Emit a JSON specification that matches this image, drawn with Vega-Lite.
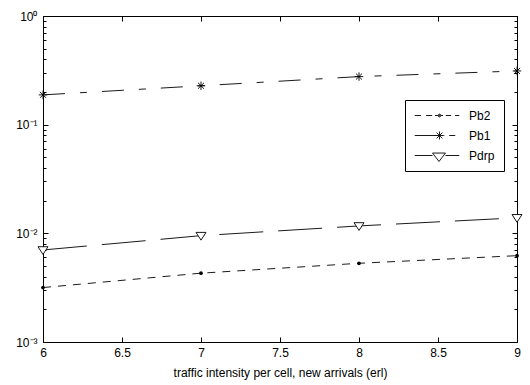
{
  "$schema": "https://vega.github.io/schema/vega-lite/v6.json",
  "width": 474,
  "height": 326,
  "autosize": {"type": "none"},
  "padding": {"left": 43, "top": 16, "right": 13, "bottom": 43},
  "background": "white",
  "config": {
    "view": {"stroke": "black", "strokeWidth": 1},
    "font": "Liberation Sans",
    "axis": {"grid": false, "domain": false, "tickColor": "black", "tickWidth": 1, "labelColor": "black", "titleColor": "black", "labelFont": "Liberation Sans", "titleFont": "Liberation Sans", "labelFontSize": 12, "titleFontSize": 12, "titleFontWeight": "normal", "labelOverlap": false, "labelFlush": false, "labelBound": false}
  },
  "data": {"values": [
    {"x": 6, "y": 0.00317, "series": "Pb2"},
    {"x": 7, "y": 0.0043, "series": "Pb2"},
    {"x": 8, "y": 0.0053, "series": "Pb2"},
    {"x": 9, "y": 0.00623, "series": "Pb2"},
    {"x": 6, "y": 0.188, "series": "Pb1"},
    {"x": 7, "y": 0.228, "series": "Pb1"},
    {"x": 8, "y": 0.277, "series": "Pb1"},
    {"x": 9, "y": 0.312, "series": "Pb1"},
    {"x": 6, "y": 0.00703, "series": "Pdrp"},
    {"x": 7, "y": 0.00952, "series": "Pdrp"},
    {"x": 8, "y": 0.0117, "series": "Pdrp"},
    {"x": 9, "y": 0.0139, "series": "Pdrp"}
  ]},
  "resolve": {"axis": {"x": "independent", "y": "independent"}},
  "layer": [
    {
      "transform": [{"filter": "datum.series == 'Pb2'"}],
      "mark": {"type": "line", "color": "black", "strokeWidth": 0.9, "strokeDash": [8, 7]},
      "encoding": {
        "x": {"field": "x", "type": "quantitative", "scale": {"domain": [6, 9], "nice": false, "zero": false},
          "axis": {"orient": "bottom", "values": [6, 6.5, 7, 7.5, 8, 8.5, 9], "format": "~g", "tickSize": -5, "labelPadding": 10, "title": "traffic intensity per cell, new arrivals (erl)", "titlePadding": 9}},
        "y": {"field": "y", "type": "quantitative", "scale": {"type": "log", "domain": [0.001, 1], "nice": false},
          "axis": {"orient": "left", "title": null,
            "values": [0.001, 0.002, 0.003, 0.004, 0.005, 0.006, 0.007, 0.008, 0.009, 0.01, 0.02, 0.03, 0.04, 0.05, 0.06, 0.07, 0.08, 0.09, 0.1, 0.2, 0.3, 0.4, 0.5, 0.6, 0.7, 0.8, 0.9, 1],
            "tickSize": {"condition": {"test": "abs(log(datum.value)/LN10 - round(log(datum.value)/LN10)) < 0.01", "value": -5}, "value": -3},
            "labelPadding": 11,
            "labelExpr": "abs(log(datum.value)/LN10 - round(log(datum.value)/LN10)) < 0.01 ? (round(log(datum.value)/LN10) == 0 ? '10⁰' : round(log(datum.value)/LN10) == -1 ? '10⁻¹' : round(log(datum.value)/LN10) == -2 ? '10⁻²' : '10⁻³') : ''"}}
      }
    },
    {
      "transform": [{"filter": "datum.series == 'Pb1'"}],
      "mark": {"type": "line", "color": "black", "strokeWidth": 0.9, "strokeDash": [22, 15, 7, 15]},
      "encoding": {
        "x": {"field": "x", "type": "quantitative",
          "axis": {"orient": "top", "values": [6, 6.5, 7, 7.5, 8, 8.5, 9], "labels": false, "tickSize": -5, "title": null}},
        "y": {"field": "y", "type": "quantitative",
          "axis": {"orient": "right", "title": null, "labels": false,
            "values": [0.001, 0.002, 0.003, 0.004, 0.005, 0.006, 0.007, 0.008, 0.009, 0.01, 0.02, 0.03, 0.04, 0.05, 0.06, 0.07, 0.08, 0.09, 0.1, 0.2, 0.3, 0.4, 0.5, 0.6, 0.7, 0.8, 0.9, 1],
            "tickSize": {"condition": {"test": "abs(log(datum.value)/LN10 - round(log(datum.value)/LN10)) < 0.01", "value": -5}, "value": -3}}}
      }
    },
    {
      "transform": [{"filter": "datum.series == 'Pdrp'"}],
      "mark": {"type": "line", "color": "black", "strokeWidth": 0.9, "strokeDash": [44, 15]},
      "encoding": {
        "x": {"field": "x", "type": "quantitative", "axis": null},
        "y": {"field": "y", "type": "quantitative", "axis": null}
      }
    },
    {
      "transform": [{"filter": "datum.series == 'Pb2'"}],
      "mark": {"type": "point", "shape": "circle", "filled": true, "color": "black", "size": 14, "opacity": 1},
      "encoding": {
        "x": {"field": "x", "type": "quantitative", "axis": null},
        "y": {"field": "y", "type": "quantitative", "axis": null}
      }
    },
    {
      "transform": [{"filter": "datum.series == 'Pb1'"}],
      "mark": {"type": "point", "shape": "M0,-1L0,1M-1,0L1,0M-0.7,-0.7L0.7,0.7M-0.7,0.7L0.7,-0.7", "filled": false, "color": "black", "strokeWidth": 0.9, "size": 72, "opacity": 1},
      "encoding": {
        "x": {"field": "x", "type": "quantitative", "axis": null},
        "y": {"field": "y", "type": "quantitative", "axis": null}
      }
    },
    {
      "transform": [{"filter": "datum.series == 'Pdrp'"}],
      "mark": {"type": "point", "shape": "M-1,-0.65L1,-0.65L0,0.9Z", "filled": false, "fill": "white", "color": "black", "stroke": "black", "strokeWidth": 0.9, "size": 100, "opacity": 1, "fillOpacity": 1},
      "encoding": {
        "x": {"field": "x", "type": "quantitative", "axis": null},
        "y": {"field": "y", "type": "quantitative", "axis": null}
      }
    },
    {
      "mark": {"type": "point", "opacity": 0, "filled": false, "color": "black"},
      "encoding": {
        "x": {"field": "x", "type": "quantitative", "axis": null},
        "y": {"field": "y", "type": "quantitative", "axis": null},
        "shape": {"field": "series", "type": "nominal",
          "scale": {"domain": ["Pb2", "Pb1", "Pdrp"],
            "range": [
              "M-1,0L-0.72,0M-0.49,0L-0.22,0M-0.09,0L0.04,0M0.18,0L0.27,0M0.4,0L0.63,0M0.81,0L1,0M0.048,0A0.063,0.063 0 1,0 0.174,0A0.063,0.063 0 1,0 0.048,0M0.08,0A0.03,0.03 0 1,0 0.14,0A0.03,0.03 0 1,0 0.08,0",
              "M-1,0L-0.03,0M0.11,-0.18L0.11,0.18M-0.07,0L0.29,0M-0.02,-0.13L0.24,0.13M-0.02,0.13L0.24,-0.13M0.29,0L0.33,0M0.55,0L0.82,0",
              "M-1,0L-0.2,0M-0.2,-0.11L0.38,-0.11L0.09,0.27Z M0.38,0L1,0"
            ]},
          "legend": {"orient": "none", "legendX": 362, "legendY": 84, "title": null,
            "strokeColor": "black", "fillColor": "white", "padding": 9,
            "labelFont": "Liberation Sans", "labelFontSize": 12, "labelColor": "black",
            "symbolSize": 1980, "symbolStrokeColor": "black", "symbolStrokeWidth": 0.9, "symbolFillColor": "transparent", "symbolOpacity": 1,
            "clipHeight": 13, "rowPadding": 7, "labelOffset": 9, "symbolOffset": 0}}
      }
    }
  ]
}
